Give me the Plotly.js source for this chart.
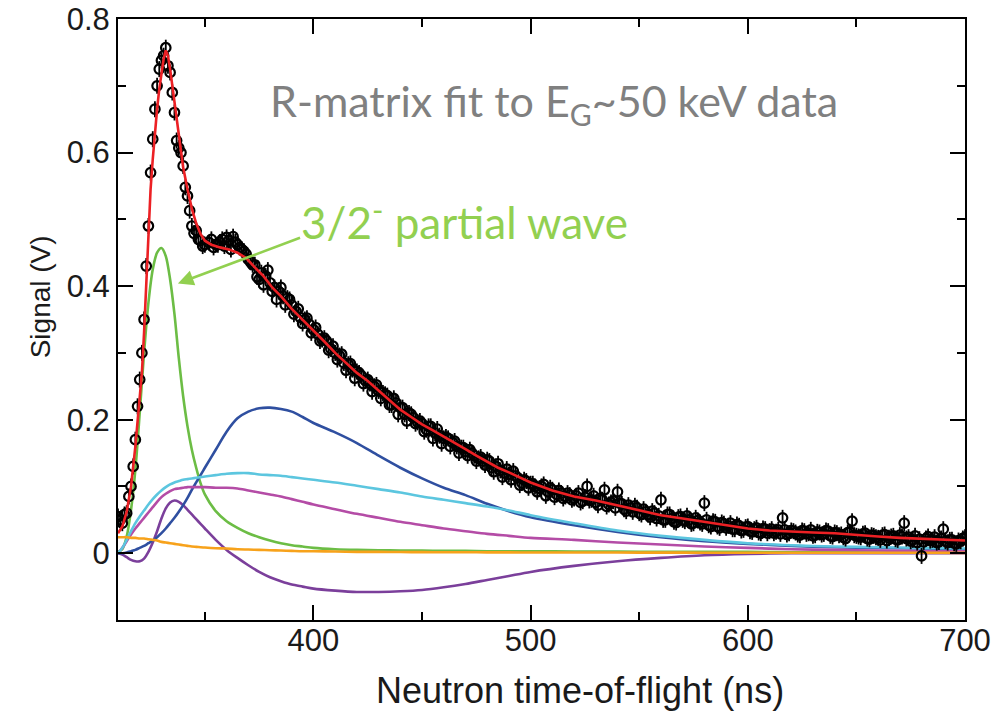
<!DOCTYPE html>
<html>
<head>
<meta charset="utf-8">
<script src="https://cdn.plot.ly/plotly-3.0.1.min.js"></script>
<style>html,body{margin:0;padding:0;background:#fff;}#chart{width:994px;height:713px;}</style>
</head>
<body>
<div id="chart"></div>
<script>
// Measured data (neutron time-of-flight in ns, signal in V) - integer / even samples
const dataT = [
  310,311,312,313,314,315,316,317,318,319,320,321,322,323,324,325,326,327,328,329,
  330,331,332,333,334,335,336,337,338,339,340,341,342,343,344,345,346,347,348,349,350,
  352,354,356,358,360,362,364,366,368,370,
  372,374,376,378,380,382,384,386,388,390,
  392,394,396,398,400,402,404,406,408,410,
  412,414,416,418,420,422,424,426,428,430,
  432,434,436,438,440,442,444,446,448,450,
  452,454,456,458,460,462,464,466,468,470,
  472,474,476,478,480,482,484,486,488,490,
  492,494,496,498,500,502,504,506,508,510,
  512,514,516,518,520,522,524,526,528,530,
  532,534,536,538,540,542,544,546,548,550,
  552,554,556,558,560,562,564,566,568,570,
  572,574,576,578,580,582,584,586,588,590,
  592,594,596,598,600,602,604,606,608,610,
  612,614,616,618,620,622,624,626,628,630,
  632,634,636,638,640,642,644,646,648,650,
  652,654,656,658,660,662,664,666,668,670,
  672,674,676,678,680,682,684,686,688,690,
  692,694,696,698,700
];
const dataV = [
  0.055,0.050,0.045,0.058,0.060,0.085,0.100,0.130,0.170,0.220,0.260,0.300,0.350,0.430,0.490,0.570,0.620,0.665,0.700,0.725,
  0.738,0.745,0.757,0.730,0.720,0.690,0.660,0.618,0.607,0.600,0.580,0.548,0.535,0.513,0.490,0.479,0.483,0.470,0.468,0.460,0.462,
  0.465,0.458,0.462,0.470,0.473,0.455,0.466,0.458,0.452,0.440,
  0.432,0.414,0.420,0.415,0.405,0.398,0.392,0.385,0.382,0.372,
  0.362,0.353,0.350,0.343,0.335,0.328,0.320,0.318,0.306,0.300,
  0.296,0.285,0.283,0.275,0.272,0.266,0.258,0.254,0.250,0.243,
  0.240,0.236,0.222,0.225,0.218,0.208,0.210,0.203,0.196,0.194,
  0.185,0.190,0.180,0.176,0.172,0.172,0.166,0.160,0.158,0.152,
  0.155,0.146,0.142,0.138,0.140,0.128,0.130,0.124,0.120,0.118,
  0.123,0.113,0.105,0.108,0.104,0.100,0.097,0.103,0.092,0.095,
  0.088,0.090,0.085,0.087,0.082,0.090,0.078,0.100,0.080,0.076,
  0.082,0.095,0.073,0.078,0.092,0.074,0.063,0.068,0.071,0.060,
  0.066,0.058,0.063,0.052,0.080,0.050,0.058,0.047,0.054,0.050,
  0.056,0.044,0.053,0.046,0.075,0.042,0.048,0.040,0.046,0.038,
  0.045,0.036,0.041,0.035,0.040,0.032,0.038,0.030,0.036,0.033,
  0.030,0.035,0.053,0.028,0.034,0.031,0.027,0.033,0.030,0.026,
  0.032,0.028,0.034,0.026,0.031,0.027,0.024,0.031,0.048,0.026,
  0.024,0.030,0.021,0.026,0.023,0.027,0.019,0.025,0.021,0.027,
  0.045,0.024,0.020,0.016,-0.004,0.022,0.019,0.024,0.017,0.036,
  0.016,0.020,0.014,0.018,0.024
];
// Interleaved odd-time samples
const dataT2 = [
  353,355,357,359,361,363,365,367,369,371,
  373,375,377,379,381,383,385,387,389,391,
  393,395,397,399,401,403,405,407,409,411,
  413,415,417,419,421,423,425,427,429,431,
  433,435,437,439,441,443,445,447,449,451,
  453,455,457,459,461,463,465,467,469,471,
  473,475,477,479,481,483,485,487,489,491,
  493,495,497,499,501,503,505,507,509,511,
  513,515,517,519,521,523,525,527,529,531,
  533,535,537,539,541,543,545,547,549,551,
  553,555,557,559,561,563,565,567,569,571,
  573,575,577,579,581,583,585,587,589,591,
  593,595,597,599,601,603,605,607,609,611,
  613,615,617,619,621,623,625,627,629,631,
  633,635,637,639,641,643,645,647,649,651,
  653,655,657,659,661,663,665,667,669,671,
  673,675,677,679,681,683,685,687,689,691,
  693,695,697,699
];
const dataV2 = [
  0.470,0.462,0.466,0.460,0.468,0.474,0.462,0.455,0.448,0.436,
  0.432,0.410,0.402,0.424,0.392,0.380,0.398,0.372,0.380,0.358,
  0.366,0.344,0.352,0.330,0.338,0.318,0.322,0.304,0.310,0.290,
  0.298,0.274,0.284,0.262,0.270,0.254,0.260,0.242,0.252,0.232,
  0.238,0.222,0.232,0.208,0.218,0.198,0.208,0.194,0.198,0.182,
  0.190,0.172,0.186,0.164,0.174,0.160,0.168,0.150,0.158,0.146,
  0.150,0.138,0.144,0.132,0.138,0.122,0.134,0.114,0.126,0.110,
  0.116,0.102,0.110,0.098,0.104,0.092,0.100,0.086,0.098,0.084,
  0.094,0.082,0.090,0.080,0.086,0.076,0.084,0.079,0.086,0.072,
  0.080,0.070,0.076,0.068,0.075,0.066,0.072,0.062,0.068,0.058,
  0.062,0.054,0.060,0.056,0.050,0.058,0.052,0.046,0.055,0.048,
  0.050,0.045,0.049,0.044,0.050,0.040,0.047,0.038,0.044,0.041,
  0.036,0.043,0.034,0.039,0.033,0.036,0.031,0.037,0.030,0.036,
  0.032,0.029,0.035,0.030,0.033,0.028,0.034,0.029,0.035,0.027,
  0.031,0.029,0.033,0.025,0.030,0.028,0.022,0.032,0.027,0.025,
  0.029,0.022,0.027,0.024,0.020,0.028,0.023,0.026,0.020,0.025,
  0.022,0.018,0.026,0.021,0.017,0.025,0.020,0.016,0.022,0.018,
  0.020,0.015,0.019,0.022
];
const dataErr = 0.012;

// Total R-matrix fit
const fitT = [310,312,314,316,318,320,321,322,323,324,325,326,327,328,329,330,331,332,333,334,335,336,337,338,339,340,
  342,344,346,348,350,353,357,361,365,369,373,377,381,385,390,395,400,405,410,415,420,425,430,435,440,445,450,455,460,
  465,470,475,480,485,490,495,500,510,520,530,540,550,560,570,580,590,600,610,620,630,640,650,660,670,680,690,700];
const fitV = [0.030,0.040,0.062,0.100,0.160,0.230,0.270,0.330,0.400,0.475,0.545,0.590,0.630,0.665,0.695,0.720,0.740,0.753,0.745,0.725,0.700,0.672,0.645,0.620,0.598,0.578,
  0.545,0.516,0.494,0.478,0.468,0.462,0.458,0.455,0.450,0.442,0.428,0.415,0.398,0.385,0.366,0.350,0.333,0.317,0.300,0.285,0.270,0.258,0.244,0.229,0.215,0.204,0.193,0.184,0.175,
  0.166,0.156,0.146,0.137,0.128,0.121,0.113,0.106,0.094,0.085,0.079,0.072,0.064,0.057,0.052,0.047,0.042,0.037,0.034,0.032,0.031,0.030,0.027,0.025,0.023,0.022,0.020,0.019];

// Partial-wave components (common time grid)
const compT = [310,312,314,316,318,320,322,324,326,328,330,332,334,336,338,340,342,344,346,348,350,
  355,360,365,370,375,380,385,390,395,400,
  410,420,430,440,450,460,470,480,490,500,
  520,540,560,580,600,620,640,660,680,700];
const blueV = [0,0,0.001,0.003,0.005,0.008,0.011,0.015,0.019,0.024,0.030,0.037,0.045,0.053,0.062,0.072,0.083,0.095,0.106,0.117,0.128,
  0.155,0.182,0.202,0.212,0.217,0.218,0.216,0.212,0.204,0.195,
  0.181,0.165,0.146,0.128,0.112,0.098,0.087,0.074,0.063,0.054,
  0.042,0.032,0.024,0.018,0.014,0.011,0.009,0.008,0.007,0.006];
const cyanV = [0,0.008,0.020,0.033,0.045,0.055,0.064,0.073,0.081,0.088,0.094,0.099,0.103,0.106,0.108,0.110,0.111,0.112,0.113,0.114,0.115,
  0.117,0.119,0.120,0.120,0.118,0.117,0.116,0.114,0.112,0.110,
  0.106,0.101,0.096,0.091,0.085,0.080,0.075,0.070,0.064,0.057,
  0.045,0.034,0.026,0.020,0.015,0.012,0.010,0.009,0.008,0.007];
const magentaV = [0,0.008,0.018,0.028,0.037,0.045,0.053,0.061,0.069,0.077,0.084,0.089,0.093,0.096,0.097,0.098,0.099,0.099,0.099,0.099,0.099,
  0.098,0.098,0.097,0.094,0.091,0.088,0.085,0.081,0.077,0.073,
  0.066,0.059,0.053,0.047,0.042,0.037,0.033,0.029,0.026,0.023,
  0.020,0.016,0.013,0.010,0.008,0.006,0.005,0.004,0.003,0.003];
const greenV = [0.002,0.006,0.025,0.065,0.125,0.210,0.300,0.375,0.425,0.450,0.457,0.445,0.410,0.358,0.292,0.235,0.190,0.155,0.128,0.105,0.088,
  0.063,0.048,0.038,0.030,0.024,0.019,0.015,0.012,0.010,0.008,
  0.006,0.005,0.0045,0.004,0.004,0.0035,0.0035,0.003,0.003,0.003,
  0.0025,0.0025,0.002,0.002,0.002,0.0015,0.0015,0.001,0.001,0.001];
const purpleV = [0,-0.002,-0.006,-0.010,-0.012,-0.012,-0.008,0.002,0.016,0.033,0.052,0.067,0.076,0.079,0.077,0.072,0.065,0.058,0.051,0.044,0.037,
  0.020,0.005,-0.007,-0.018,-0.028,-0.036,-0.042,-0.047,-0.050,-0.053,
  -0.056,-0.058,-0.058,-0.057,-0.055,-0.051,-0.046,-0.040,-0.034,-0.028,
  -0.019,-0.012,-0.007,-0.003,-0.001,0,0,0,0,0];
const orangeV = [0.024,0.024,0.024,0.023,0.023,0.022,0.022,0.021,0.020,0.019,0.017,0.016,0.015,0.014,0.013,0.012,0.011,0.010,0.0095,0.009,0.0085,
  0.0075,0.007,0.006,0.0055,0.005,0.0045,0.004,0.0035,0.003,0.003,
  0.0025,0.002,0.002,0.0018,0.0016,0.0015,0.0014,0.0013,0.0012,0.0011,
  0.001,0.001,0.0009,0.0008,0.0008,0.0007,0.0007,0.0006,0.0006,0.0005];

const xTickVals = [400,500,600,700];
const yTickVals = [0,0.2,0.4,0.6,0.8];
const yTickText = ['0','0.2','0.4','0.6','0.8'];

function comp(y, color){
  return {x: compT, y: y, type:'scatter', mode:'lines', hoverinfo:'skip',
    line:{color: color, width:2.6, shape:'spline', smoothing:0.8}};
}
function pts(x, y){
  return {x: x, y: y, type:'scatter', mode:'markers',
   marker:{symbol:'circle-open', size:9.5, color:'#000', line:{width:2.2, color:'#000'}},
   error_y:{type:'constant', value: dataErr, thickness:1.8, width:0, color:'#000'}};
}

const traces = [
  comp(purpleV,'#7b3f9b'),
  comp(greenV,'#6cbd45'),
  comp(blueV,'#2f4fa0'),
  comp(magentaV,'#b44ca6'),
  comp(cyanV,'#5cc6df'),
  comp(orangeV,'#f7a21b'),
  pts(dataT, dataV),
  pts(dataT2, dataV2),
  {x: fitT, y: fitV, type:'scatter', mode:'lines',
   line:{color:'#ec2024', width:2.6}}
];

const FONT = '"Liberation Sans", Arial, sans-serif';
const tickFont = {family:FONT, size:31, color:'#1a1a1a'};

const layout = {
  width:994, height:713,
  margin:{l:118, r:29, t:19, b:93},
  paper_bgcolor:'#fff', plot_bgcolor:'#fff',
  showlegend:false,
  xaxis:{
    range:[310,700], tickvals:xTickVals, ticktext:xTickVals.map(String),
    ticks:'inside', ticklen:15, tickwidth:2, tickcolor:'#000',
    showline:true, linewidth:2, linecolor:'#000', mirror:'ticks',
    showgrid:false, zeroline:false, ticklabelstandoff:-8,
    minor:{ticks:'inside', ticklen:8, tickwidth:2, tickcolor:'#000', dtick:50, tick0:0, showgrid:false},
    tickfont:tickFont
  },
  yaxis:{
    range:[-0.1,0.8], tickvals:yTickVals, ticktext:yTickText,
    ticks:'inside', ticklen:15, tickwidth:2, tickcolor:'#000',
    showline:true, linewidth:2, linecolor:'#000', mirror:'ticks',
    showgrid:false, zeroline:false,
    minor:{ticks:'inside', ticklen:8, tickwidth:2, tickcolor:'#000', dtick:0.1, tick0:0, showgrid:false},
    tickfont:tickFont
  },
  annotations:[
    {xref:'paper', yref:'paper', x:0.545, y:-0.1165, xanchor:'center', yanchor:'middle',
     text:'Neutron time-of-flight (ns)', showarrow:false, font:{family:FONT, size:36, color:'#1a1a1a'}},
    {xref:'paper', yref:'paper', x:-0.092, y:0.537, xanchor:'center', yanchor:'middle', textangle:-90,
     text:'Signal (V)', showarrow:false, font:{family:FONT, size:28, color:'#1a1a1a'}},
    {x:510.8, y:0.674, xref:'x', yref:'y', text:'R-matrix fit to E<sub>G</sub>~50 keV data',
     showarrow:false, font:{family:'Lato, "Open Sans", sans-serif', size:43, color:'#808080'}},
    {x:393.5, y:0.50, xref:'x', yref:'y', xanchor:'left', text:'3/2<sup>-</sup> partial wave',
     showarrow:false, font:{family:'Lato, "Open Sans", sans-serif', size:44, color:'#92d050'}},
    {x:337.6, y:0.404, xref:'x', yref:'y', axref:'x', ayref:'y', ax:395.2, ay:0.474,
     text:' ', showarrow:true, arrowhead:2, arrowsize:1.2, arrowwidth:2.6, arrowcolor:'#92d050'}
  ]
};

Plotly.newPlot('chart', traces, layout, {displayModeBar:false, staticPlot:true});
</script>
</body>
</html>
